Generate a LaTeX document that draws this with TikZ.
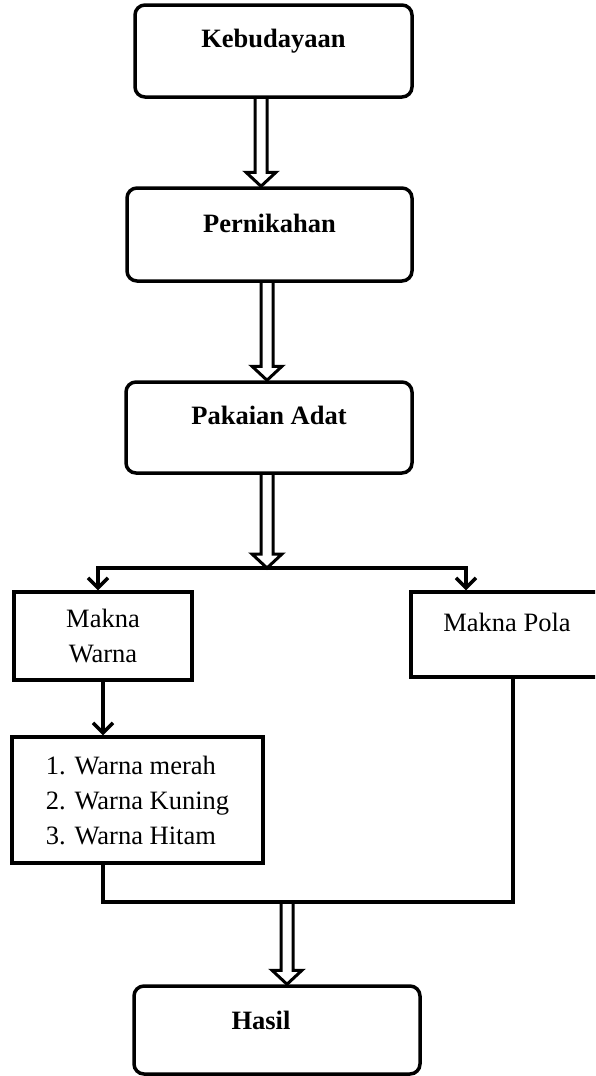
\documentclass[tikz,border=0pt]{standalone}
\usepackage{fontspec}
\setmainfont{Liberation Serif}
\usetikzlibrary{arrows.meta,calc}

\newcommand\diagfont{\fontsize{26.5}{35}\selectfont}
\tikzset{
  stagebox/.style={draw,line width=3.5pt,rounded corners=10pt,inner sep=0pt,font=\diagfont\bfseries},
  plainbox/.style={draw,line width=3.5pt,inner sep=0pt,font=\diagfont},
  thinarrow/.style={line width=3.5pt,-{Straight Barb[length=10pt,width=20pt]}},
  joinline/.style={line width=3.5pt},
  hollowline/.style={line width=3pt,line join=miter}
}
% hollow block arrow pointing down, from #1 to the tip #2
\newcommand\blockarrow[2]{%
  \path (#1) coordinate (ba top) (#2) coordinate (ba tip);
  \draw[hollowline] ($(ba top)+(-6,0)$) -- ($(ba tip)+(-6,-14)$) -- ($(ba tip)+(-15,-14)$)
    -- (ba tip) -- ($(ba tip)+(15,-14)$) -- ($(ba tip)+(6,-14)$) -- ($(ba top)+(6,0)$);}

\begin{document}
\begin{tikzpicture}[x=1pt,y=-1pt]
    \useasboundingbox (0,0) rectangle (595,1076);
    \clip (0,0) rectangle (595,1076);
    % main stages
    \node[stagebox,minimum width=277pt,text height=42pt,text depth=50pt] (kebudayaan) at (273.5,51) {Kebudayaan};
    \node[stagebox,minimum width=285pt,text height=44pt,text depth=49pt] (pernikahan) at (269.5,234.5) {Pernikahan};
    \node[stagebox,minimum width=286pt,text height=42pt,text depth=49pt] (pakaian) at (269,427.5) {Pakaian Adat};
    % two meanings
    \node[plainbox,minimum width=178pt,minimum height=88pt,align=center] (warna) at (103,636) {Makna\\Warna};
    \node[plainbox,minimum width=192pt,text height=39pt,text depth=46pt] (pola) at (507,634.5) {Makna Pola};
    \node[plainbox,minimum width=251pt,minimum height=126pt,align=left] (daftar) at (137.5,800)
      {1. Warna merah\\2. Warna Kuning\\3. Warna Hitam};
    % result
    \node[stagebox,minimum width=286pt,text height=43pt,text depth=45pt] (hasil) at (277,1030) {\hspace*{-32pt}Hasil};
    % branch and join points
    \coordinate (split) at (267,568);
    \coordinate (merge) at (287,902);
    % block arrows
    \blockarrow{261,0 |- kebudayaan.south}{261,0 |- pernikahan.north}
    \blockarrow{267,0 |- pernikahan.south}{267,0 |- pakaian.north}
    \blockarrow{267,0 |- pakaian.south}{split}
    \blockarrow{merge}{287,0 |- hasil.north}
    % thin connectors
    \draw[thinarrow] (split) -| (98,0 |- warna.north);
    \draw[thinarrow] (split) -| (466,0 |- pola.north);
    \draw[thinarrow] (warna.south) -- (warna.south |- daftar.north);
    \draw[joinline] (warna.south |- daftar.south) |- (merge) -| (513,0 |- pola.south);
\end{tikzpicture}
\end{document}
